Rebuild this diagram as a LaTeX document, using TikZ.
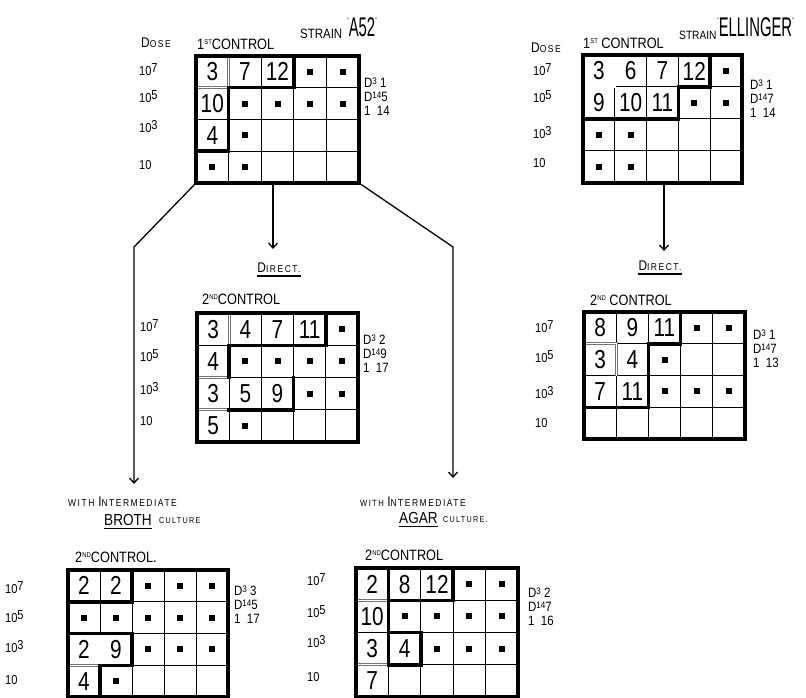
\documentclass[tikz,border=0pt]{standalone}
\usepackage{fontspec}
\setmainfont{Liberation Sans}[FakeStretch=0.85]
\newfontfamily\numfont{Liberation Sans}[FakeStretch=0.8]
\newfontfamily\tallfont{Liberation Sans}[FakeStretch=0.55]
\newfontfamily\spfont{Liberation Sans}[FakeStretch=0.85, LetterSpace=15]
\usetikzlibrary{arrows.meta}
\newcommand{\SC}[2]{{\fontsize{14}{14}\selectfont #1}{\spfont\fontsize{10}{10}\selectfont #2}}
\newcommand{\rz}[1]{\raisebox{3pt}{#1}}
\newcommand{\ord}[1]{\raisebox{5pt}{\fontsize{7}{7}\selectfont #1}}
\newcommand{\sps}[1]{\raisebox{3pt}{\fontsize{9.5}{9.5}\selectfont #1}}
\newcommand{\cellgrid}{%
  \foreach \k in {1,2,3,4} {\draw[gl] (\k,0) -- (\k,4);}
  \foreach \k in {1,2,3} {\draw[gl] (0,\k) -- (5,\k);}}
\newcommand{\qt}{\raisebox{13pt}{\fontsize{8}{8}\selectfont"}}
\begin{document}
\begin{tikzpicture}[x=1pt,y=-1pt,
  gl/.style={line width=1pt},
  gridbox/.style={draw, line width=4pt, inner sep=0pt, outer sep=0pt, anchor=north west},
  thk/.style={line width=3.5pt, line cap=rect, line join=miter},
  dbl/.style={draw=black!55, double=white, double distance=1.4pt, line width=0.6pt},
  num/.style={font=\numfont\fontsize{26}{26}\selectfont, inner sep=0pt},
  dotsq/.style={fill=black, minimum size=6pt, inner sep=0pt, rectangle},
  lab/.style={font=\fontsize{13}{13}\selectfont, inner sep=0pt, anchor=west},
  ctl/.style={font=\fontsize{15}{15}\selectfont, inner sep=0pt, anchor=west},
  ann/.style={font=\fontsize{13.5}{14}\selectfont, inner sep=0pt, align=left, anchor=north west},
  conn/.style={line width=1.3pt},
  arr/.style={conn, -{Straight Barb[length=5pt,width=9pt]}},
  ul/.style={line width=1.2pt},
  big/.style={font=\fontsize{16}{16}\selectfont, inner sep=0pt, anchor=west},
  tiny/.style={font=\spfont\fontsize{8.5}{8.5}\selectfont, inner sep=0pt, anchor=west},
  strn/.style={font=\tallfont\fontsize{27}{27}\selectfont, inner sep=0pt, anchor=west}
]
\fill[white] (0,0) rectangle (806,698);
\useasboundingbox (0,0) rectangle (806,698);

% ---------------- Grid 1: A52, 1st control
\begin{scope}[shift={(196,56)}, x=32.6pt, y=-31.75pt]
  \cellgrid
  \draw[dbl] (1,0) -- (1,1) -- (0,1);
  \draw[thk] (3,0) -- (3,1) -- (1,1) -- (1,3) -- (0,3);
  \node[gridbox, minimum width=163pt, minimum height=127pt] (g1) at (0,0) {};
  \foreach \c/\r/\v [count=\i] in {0/0/3,1/0/7,2/0/12,0/1/10,0/2/4}
    \node[num] (g1n\i) at (\c+.5,\r+.5) {\v};
  \foreach \c/\r [count=\i] in {3/0,4/0,1/1,2/1,3/1,4/1,1/2,0/3,1/3}
    \node[dotsq] (g1d\i) at (\c+.5,\r+.5) {};
\end{scope}

% ---------------- Grid 2: Ellinger, 1st control
\begin{scope}[shift={(583,55)}, x=31.8pt, y=-32pt]
  \cellgrid
  \draw[dbl] (1,0) -- (1,1) -- (0,1);
  \draw[thk] (4,0) -- (4,1) -- (3,1) -- (3,2) -- (0,2);
  \node[gridbox, minimum width=159pt, minimum height=128pt] (g2) at (0,0) {};
  \foreach \c/\r/\v [count=\i] in {0/0/3,1/0/6,2/0/7,3/0/12,0/1/9,1/1/10,2/1/11}
    \node[num] (g2n\i) at (\c+.5,\r+.5) {\v};
  \foreach \c/\r [count=\i] in {4/0,3/1,4/1,0/2,1/2,0/3,1/3}
    \node[dotsq] (g2d\i) at (\c+.5,\r+.5) {};
\end{scope}

% ---------------- Grid 3: A52, 2nd control direct
\begin{scope}[shift={(197,313)}, x=32.2pt, y=-32.25pt]
  \cellgrid
  \draw[dbl] (1,0) -- (1,1);
  \draw[dbl] (0,2) -- (1,2);
  \draw[dbl] (0,3) -- (1,3);
  \draw[thk] (4,0) -- (4,1) -- (1,1) -- (1,2);
  \draw[thk] (3,2) -- (3,3) -- (1,3);
  \node[gridbox, minimum width=161pt, minimum height=129pt] (g3) at (0,0) {};
  \foreach \c/\r/\v [count=\i] in {0/0/3,1/0/4,2/0/7,3/0/11,0/1/4,0/2/3,1/2/5,2/2/9,0/3/5}
    \node[num] (g3n\i) at (\c+.5,\r+.5) {\v};
  \foreach \c/\r [count=\i] in {4/0,1/1,2/1,3/1,4/1,3/2,4/2,1/3}
    \node[dotsq] (g3d\i) at (\c+.5,\r+.5) {};
\end{scope}

% ---------------- Grid 4: Ellinger, 2nd control direct
\begin{scope}[shift={(584,312)}, x=32.2pt, y=-31.75pt]
  \cellgrid
  \draw[dbl] (0,1) -- (1,1) -- (1,2);
  \draw[thk] (3,0) -- (3,1) -- (2,1) -- (2,3) -- (0,3);
  \node[gridbox, minimum width=161pt, minimum height=127pt] (g4) at (0,0) {};
  \foreach \c/\r/\v [count=\i] in {0/0/8,1/0/9,2/0/11,0/1/3,1/1/4,0/2/7,1/2/11}
    \node[num] (g4n\i) at (\c+.5,\r+.5) {\v};
  \foreach \c/\r [count=\i] in {3/0,4/0,2/1,2/2,3/2,4/2}
    \node[dotsq] (g4d\i) at (\c+.5,\r+.5) {};
\end{scope}

% ---------------- Grid 5: broth
\begin{scope}[shift={(68,570)}, x=32pt, y=-31.75pt]
  \cellgrid
  \draw[dbl] (1,2) -- (1,3);
  \draw[dbl] (0,3) -- (1,3);
  \draw[thk] (0,1) -- (2,1) -- (2,0);
  \draw[thk] (0,2) -- (2,2) -- (2,3) -- (1,3) -- (1,4);
  \node[gridbox, minimum width=160pt, minimum height=127pt] (g5) at (0,0) {};
  \foreach \c/\r/\v [count=\i] in {0/0/2,1/0/2,0/2/2,1/2/9,0/3/4}
    \node[num] (g5n\i) at (\c+.5,\r+.5) {\v};
  \foreach \c/\r [count=\i] in {2/0,3/0,4/0,0/1,1/1,2/1,3/1,4/1,2/2,3/2,4/2,1/3}
    \node[dotsq] (g5d\i) at (\c+.5,\r+.5) {};
\end{scope}

% ---------------- Grid 6: agar
\begin{scope}[shift={(356,568)}, x=32.4pt, y=-32.25pt]
  \cellgrid
  \draw[dbl] (0,1) -- (1,1);
  \draw[dbl] (0,3) -- (1,3);
  \draw[thk] (1,0) -- (1,1) -- (3,1) -- (3,0);
  \draw[thk] (1,1) -- (1,3);
  \draw[thk] (1,2) -- (2,2) -- (2,3) -- (1,3);
  \node[gridbox, minimum width=162pt, minimum height=129pt] (g6) at (0,0) {};
  \foreach \c/\r/\v [count=\i] in {0/0/2,1/0/8,2/0/12,0/1/10,0/2/3,1/2/4,0/3/7}
    \node[num] (g6n\i) at (\c+.5,\r+.5) {\v};
  \foreach \c/\r [count=\i] in {3/0,4/0,1/1,2/1,3/1,4/1,2/2,3/2,4/2}
    \node[dotsq] (g6d\i) at (\c+.5,\r+.5) {};
\end{scope}

% ---------------- Labels: top left
\node[lab] (tldose) at (141,43) {\SC{D}{OSE}};
\node[lab] (tl7) at (139,70) {10\rz{7}};
\node[lab] (tl5) at (139,97) {10\rz{5}};
\node[lab] (tl3) at (139,127) {10\rz{3}};
\node[lab] (tl1) at (139,165) {10};
\node[ctl] (tlctl) at (197,44) {1\ord{ST}CONTROL};
\node[lab, font=\fontsize{13.5}{13.5}\selectfont] (tlstr) at (300,34) {STRAIN};
\node[strn] (tlname) at (347,27) {\qt A52\qt};
\node[ann] (tlann) at (364,78) {D\sps{3} 1\\D\sps{14}5\\1\ \ 14};

% ---------------- Labels: top right
\node[lab] (trdose) at (531,48) {\SC{D}{OSE}};
\node[lab] (tr7) at (533,70) {10\rz{7}};
\node[lab] (tr5) at (533,97) {10\rz{5}};
\node[lab] (tr3) at (533,133) {10\rz{3}};
\node[lab] (tr1) at (533,163) {10};
\node[ctl] (trctl) at (583,43) {1\ord{ST} CONTROL};
\node[lab, font=\fontsize{12}{12}\selectfont] (trstr) at (679,35) {STRAIN};
\node[strn] (trname) at (717,27) {\qt ELLINGER\qt};
\node[ann] (trann) at (750,80) {D\sps{3} 1\\D\sps{14}7\\1\ \ 14};

% ---------------- Labels: middle left
\node[lab, anchor=center] (dirL) at (279,268) {\SC{D}{IRECT.}};
\draw[ul] ([yshift=-3pt]dirL.south west) -- ([yshift=-3pt]dirL.south east);
\node[ctl] (mlctl) at (202,299) {2\ord{ND}CONTROL};
\node[lab] (ml7) at (140,326) {10\rz{7}};
\node[lab] (ml5) at (140,356) {10\rz{5}};
\node[lab] (ml3) at (140,389) {10\rz{3}};
\node[lab] (ml1) at (140,421) {10};
\node[ann] (mlann) at (363,335) {D\sps{3} 2\\D\sps{14}9\\1\ \ 17};

% ---------------- Labels: middle right
\node[lab, anchor=center] (dirR) at (660,266) {\SC{D}{IRECT.}};
\draw[ul] ([yshift=-3pt]dirR.south west) -- ([yshift=-3pt]dirR.south east);
\node[ctl] (mrctl) at (590,300) {2\ord{ND} CONTROL};
\node[lab] (mr7) at (535,327) {10\rz{7}};
\node[lab] (mr5) at (535,357) {10\rz{5}};
\node[lab] (mr3) at (535,393) {10\rz{3}};
\node[lab] (mr1) at (535,423) {10};
\node[ann] (mrann) at (753,330) {D\sps{3} 1\\D\sps{14}7\\1\ \ 13};

% ---------------- Labels: bottom left
\node[lab] (wiL) at (68,502) {{\spfont\fontsize{10}{10}\selectfont WITH }\SC{I}{NTERMEDIATE}};
\node[big] (brL) at (104,520) {BROTH};
\draw[ul] ([yshift=-3pt]brL.south west) -- ([yshift=-3pt]brL.south east);
\node[tiny] (cuL) at (159,521) {CULTURE};
\node[ctl] (blctl) at (75,557) {2\ord{ND}CONTROL.};
\node[lab] (bl7) at (5,588) {10\rz{7}};
\node[lab] (bl5) at (5,617) {10\rz{5}};
\node[lab] (bl3) at (5,647) {10\rz{3}};
\node[lab] (bl1) at (5,680) {10};
\node[ann] (blann) at (234,586) {D\sps{3} 3\\D\sps{14}5\\1\ \ 17};

% ---------------- Labels: bottom middle
\node[lab] (wiR) at (360,502) {{\spfont\fontsize{9}{9}\selectfont WITH }\SC{I}{NTERMEDIATE}};
\node[big] (agR) at (399,518) {AGAR};
\draw[ul] ([yshift=-3pt]agR.south west) -- ([yshift=-3pt]agR.south east);
\node[tiny] (cuR) at (443,520) {CULTURE.};
\node[ctl] (bmctl) at (365,555) {2\ord{ND}CONTROL};
\node[lab] (bm7) at (307,580) {10\rz{7}};
\node[lab] (bm5) at (307,612) {10\rz{5}};
\node[lab] (bm3) at (307,642) {10\rz{3}};
\node[lab] (bm1) at (307,677) {10};
\node[ann] (bmann) at (528,588) {D\sps{3} 2\\D\sps{14}7\\1\ \ 16};

% ---------------- Connectors
\coordinate (bendL) at (134,247);
\coordinate (tipL) at (134,484);
\coordinate (bendR) at (453,247);
\coordinate (tipR) at (453,478);
\coordinate (tipM) at (273,249);
\coordinate (tipE) at (664,251);
\draw[arr] (g1.south west) -- (bendL) -- (tipL);
\draw[arr] (g1.south east) -- (bendR) -- (tipR);
\draw[arr] (g1.south -| tipM) -- (tipM);
\draw[arr] (g2.south -| tipE) -- (tipE);
\end{tikzpicture}
\end{document}
